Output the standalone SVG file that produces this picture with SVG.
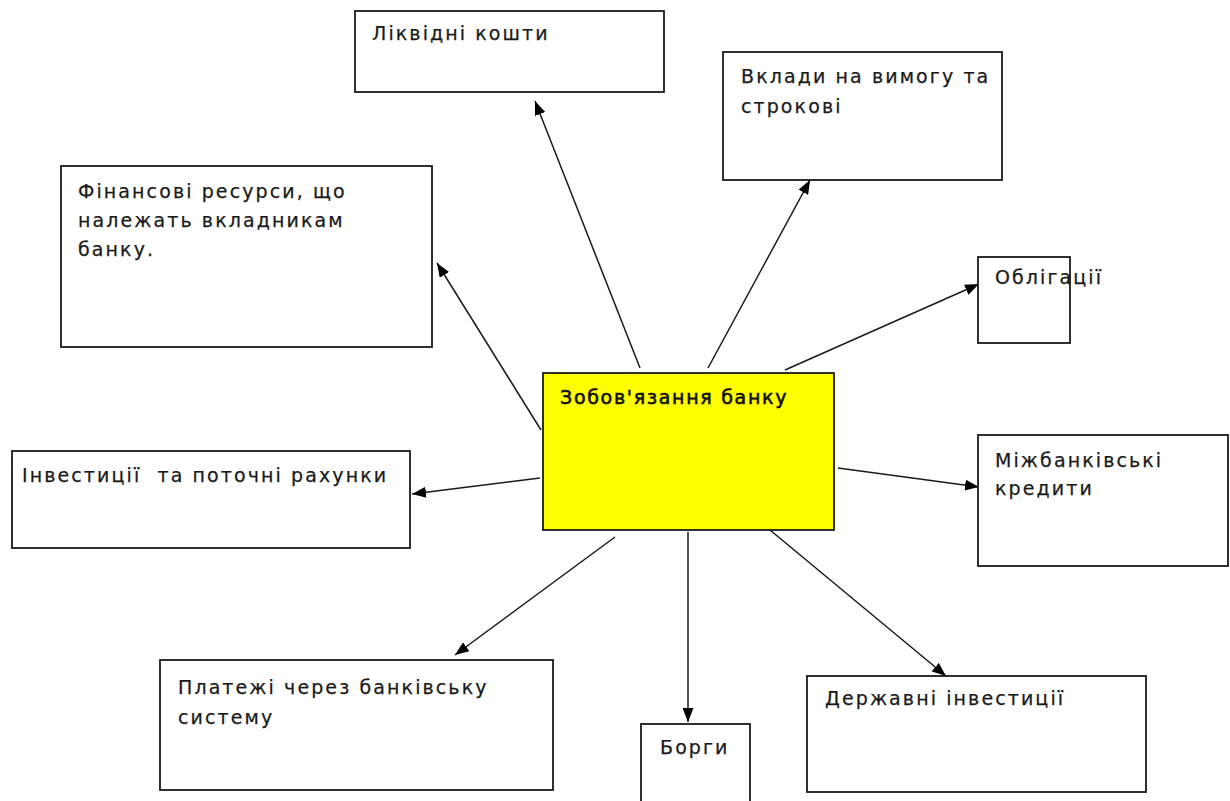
<svg xmlns="http://www.w3.org/2000/svg" width="1230" height="801" viewBox="0 0 1230 801">
<style>
.box{fill:#fff;stroke:#1a1a1a;stroke-width:1.8}
.main{fill:#ffff00;stroke:#1a1a1a;stroke-width:1.8}
.t{font-family:"DejaVu Sans",Verdana,sans-serif;font-size:19px;fill:#1a1a1a;stroke:#1a1a1a;stroke-width:0.25;letter-spacing:2.1px;white-space:pre}
.b{fill:#111;stroke:#111;stroke-width:0.6;letter-spacing:1.7px}
.c{stroke:#1a1a1a;stroke-width:1.5;fill:none;marker-end:url(#ah)}
</style>
<defs>
<marker id="ah" viewBox="0 0 14 11" refX="14" refY="5.5" markerWidth="14" markerHeight="11" markerUnits="userSpaceOnUse" orient="auto">
<path d="M0,0 L14,5.5 L0,11 z" fill="#000"/>
</marker>
</defs>
<rect width="1230" height="801" fill="#fff"/>
<g id="connectors">
<line class="c" x1="640" y1="368" x2="535" y2="101"/>
<line class="c" x1="708" y1="368" x2="810" y2="180"/>
<line class="c" x1="541" y1="430" x2="437" y2="263"/>
<line class="c" x1="785" y1="370" x2="979" y2="284"/>
<line class="c" x1="838" y1="468" x2="979" y2="487"/>
<line class="c" x1="540" y1="478" x2="412" y2="494"/>
<line class="c" x1="615" y1="537" x2="455" y2="655"/>
<line class="c" x1="688" y1="532" x2="688" y2="722"/>
<line class="c" x1="770" y1="530" x2="946" y2="676"/>
</g>
<g id="liquid">
<rect class="box" x="355" y="11" width="309" height="81"/>
<text class="t" x="372" y="40">Ліквідні кошти</text>
</g>
<g id="deposits">
<rect class="box" x="723" y="52" width="279" height="128"/>
<text class="t" x="741" y="83">Вклади на вимогу та</text>
<text class="t" x="741" y="113">строкові</text>
</g>
<g id="financial">
<rect class="box" x="61" y="166" width="371" height="181"/>
<text class="t" x="78" y="198">Фінансові ресурси, що</text>
<text class="t" x="78" y="227">належать вкладникам</text>
<text class="t" x="78" y="256">банку.</text>
</g>
<g id="bonds">
<rect class="box" x="978" y="257" width="92" height="86"/>
<text class="t" x="995" y="284">Облігації</text>
</g>
<g id="liabilities">
<rect class="main" x="543" y="373" width="291" height="157"/>
<text class="t b" x="560" y="404">Зобов'язання банку</text>
</g>
<g id="interbank">
<rect class="box" x="978" y="435" width="250" height="131"/>
<text class="t" x="995" y="467">Міжбанківські</text>
<text class="t" x="995" y="495">кредити</text>
</g>
<g id="investments">
<rect class="box" x="12" y="451" width="398" height="97"/>
<text class="t" x="22" y="482" xml:space="preserve">Інвестиції  та поточні рахунки</text>
</g>
<g id="payments">
<rect class="box" x="160" y="660" width="393" height="130"/>
<text class="t" x="178" y="694">Платежі через банківську</text>
<text class="t" x="178" y="724">систему</text>
</g>
<g id="debts">
<rect class="box" x="641" y="724" width="109" height="90"/>
<text class="t" x="660" y="754">Борги</text>
</g>
<g id="state">
<rect class="box" x="807" y="676" width="339" height="116"/>
<text class="t" x="825" y="705">Державні інвестиції</text>
</g>
</svg>
